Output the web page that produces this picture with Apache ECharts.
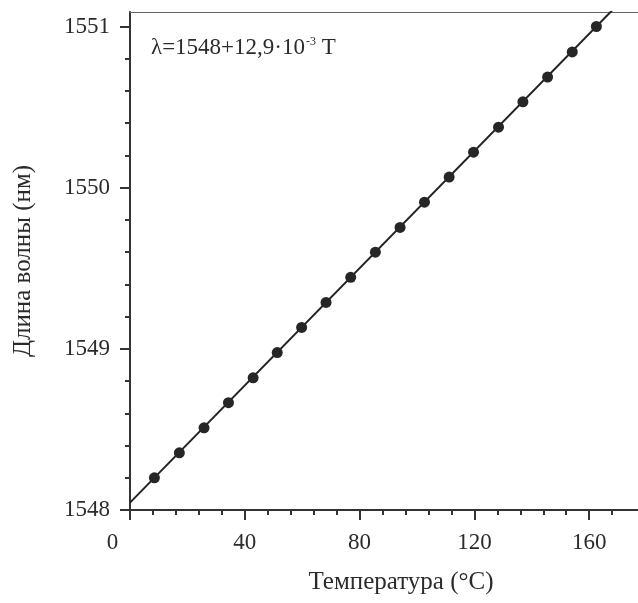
<!DOCTYPE html>
<html>
<head>
<meta charset="utf-8">
<script src="https://cdn.jsdelivr.net/npm/echarts@6/dist/echarts.min.js"></script>
<style>
html, body { margin: 0; padding: 0; background: #fff; }
#chart { width: 638px; height: 603px; }
</style>
</head>
<body>
<div id="chart"></div>
<script>
// измеренные точки
const temps = [8.5, 17.2, 25.8, 34.3, 42.9, 51.3, 59.8, 68.3, 76.9, 85.5, 94.1, 102.6, 111.2, 119.7, 128.4, 136.9, 145.5, 154.1, 162.5]
const wavelengths = [1548.20, 1548.355, 1548.51, 1548.666, 1548.82, 1548.977, 1549.133, 1549.288, 1549.444, 1549.60, 1549.753, 1549.91, 1550.066, 1550.22, 1550.375, 1550.533, 1550.686, 1550.842, 1551.0]
// линия аппроксимации (концы)
const fitT = [0, 177]
const fitW = [1548.046, 1551.264]
// подписи осей
const xTicks = [0, 40, 80, 120, 160]
const xMinorTicks = [8, 16, 24, 32, 48, 56, 64, 72, 88, 96, 104, 112, 128, 136, 144, 152, 168]
const yTicks = [1548, 1549, 1550, 1551]
const yMinorTicks = [1548.2, 1548.4, 1548.6, 1548.8, 1549.2, 1549.4, 1549.6, 1549.8, 1550.2, 1550.4, 1550.6, 1550.8]

const font = 'Liberation Serif'
const textColor = '#2b2b2b'
const axisColor = '#333'

const myChart = echarts.init(document.getElementById('chart'))

myChart.setOption({
    animation: false,
    title: {
        text: '{a|λ=1548+12,9·10}{s|-3}{a| T}',
        left: 146,
        top: 31,
        textStyle: {
            fontWeight: 'normal',
            rich: {
                a: { fontFamily: font, fontSize: 23, fontWeight: 'normal', color: textColor },
                s: { fontFamily: font, fontSize: 12, fontWeight: 'normal', color: textColor, verticalAlign: 'top', padding: [0, 0, 12, 1] }
            }
        }
    },
    grid: {
        left: 130,
        right: 0,
        top: 12,
        bottom: 93
    },
    xAxis: [{
        type: 'value',
        min: 0,
        max: 177,
        name: 'Температура (°C)',
        nameLocation: 'middle',
        nameGap: 60,
        nameTextStyle: {
            fontFamily: font,
            fontSize: 25,
            color: textColor,
            padding: [0, 0, 0, 34]
        },
        axisLine: { lineStyle: { color: axisColor, width: 2 } },
        axisTick: { customValues: xTicks, length: 10, lineStyle: { color: axisColor, width: 2 } },
        axisLabel: {
            customValues: xTicks,
            margin: 21,
            fontFamily: font,
            fontSize: 23,
            color: textColor,
            formatter: v => v === 0 ? '{z|0}' : String(v),
            rich: { z: { fontFamily: font, fontSize: 23, color: textColor, padding: [0, 35, 0, 0] } }
        },
        splitLine: { show: false }
    }, {
        type: 'value',
        min: 0,
        max: 177,
        position: 'bottom',
        axisLine: { show: false },
        axisTick: { customValues: xMinorTicks, length: 5, lineStyle: { color: axisColor, width: 2 } },
        axisLabel: { show: false },
        splitLine: { show: false }
    }, {
        type: 'value',
        min: 0,
        max: 177,
        position: 'top',
        axisLine: { lineStyle: { color: '#666', width: 1 } },
        axisTick: { show: false },
        axisLabel: { show: false },
        splitLine: { show: false }
    }],
    yAxis: [{
        type: 'value',
        min: 1548,
        max: 1551.09,
        name: 'Длина волны (нм)',
        nameLocation: 'middle',
        nameGap: 94,
        nameTextStyle: {
            fontFamily: font,
            fontSize: 25,
            color: textColor
        },
        axisLine: { lineStyle: { color: axisColor, width: 2 } },
        axisTick: { customValues: yTicks, length: 10, lineStyle: { color: axisColor, width: 2 } },
        axisLabel: {
            customValues: yTicks,
            margin: 20,
            fontFamily: font,
            fontSize: 23,
            color: textColor,
            formatter: v => String(v)
        },
        splitLine: { show: false }
    }, {
        type: 'value',
        min: 1548,
        max: 1551.09,
        position: 'left',
        axisLine: { show: false },
        axisTick: { customValues: yMinorTicks, length: 5, lineStyle: { color: axisColor, width: 2 } },
        axisLabel: { show: false },
        splitLine: { show: false }
    }],
    series: [{
        type: 'line',
        data: fitT.map((t, i) => [t, fitW[i]]),
        showSymbol: false,
        symbol: 'none',
        clip: true,
        lineStyle: { color: '#222', width: 2 },
        z: 2
    }, {
        type: 'scatter',
        data: temps.map((t, i) => [t, wavelengths[i]]),
        symbol: 'circle',
        symbolSize: 11,
        itemStyle: { color: '#262626', opacity: 1 },
        z: 3
    }]
})
</script>
</body>
</html>
